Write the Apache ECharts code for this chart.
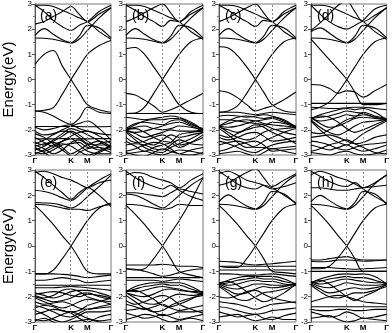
<!DOCTYPE html>
<html>
<head>
<meta charset="utf-8">
<script src="https://cdn.jsdelivr.net/npm/echarts@6/dist/echarts.min.js"></script>
<style>
  html, body { margin: 0; padding: 0; background: #fff; }
  #chart { width: 392px; height: 333px; }
</style>
</head>
<body>
<div id="chart"></div>
<script>
// k-path sample positions (fraction of path length) and high-symmetry labels
const kx = [0, 0.12, 0.24, 0.36, 0.474, 0.58, 0.69, 0.845, 1.0]
const kLabelPos = [0, 0.474, 0.69, 1]
const kLabels = ['Γ', 'K', 'M', 'Γ']
const panelLabels = ['(a)', '(b)', '(c)', '(d)', '(e)', '(f)', '(g)', '(h)']
const yTicks = [-3, 3, 1] // min, max, step (eV)

// band energies (eV) at each kx, per panel
const bandsA = [
  [1.65, 1.64, 1.6, 1.52, 1.45, 1.6, 1.95, 2.45, 2.85],
  [1.75, 2.02, 1.8, 1.58, 1.47, 1.72, 2.15, 2.05, 1.65],
  [2.95, 2.7, 2.35, 2.1, 1.95, 2.15, 2.3, 2.7, 2.95],
  [2.95, 2.95, 2.9, 2.75, 2.6, 2.45, 2.3, 1.9, 1.6],
  [2.2, 2.3, 2.5, 2.7, 2.9, 2.6, 2.3, 2.6, 2.85],
  [0.6, 1.0, 1.15, 0.53, 0, -0.5, -1.0, -1.2, -1.3],
  [-1.25, -1.22, -1.12, -0.58, 0, 0.5, 1.0, 1.35, 1.55],
  [-1.25, -1.3, -1.45, -1.65, -1.78, -1.55, -1.1, -1.3, -1.35],
  [-1.87, -1.87, -1.87, -1.87, -1.87, -1.87, -1.88, -1.88, -1.87],
  [-1.9, -2.0, -1.95, -1.85, -1.8, -1.95, -2.05, -2.15, -2.2],
  [-2.05, -2.2, -2.15, -2.0, -1.85, -1.75, -1.65, -1.95, -2.4],
  [-2.35, -2.36, -2.36, -2.35, -2.35, -2.36, -2.36, -2.35, -2.35],
  [-2.3, -2.5, -2.65, -2.45, -2.25, -2.1, -2.05, -2.25, -2.55],
  [-2.55, -2.4, -2.2, -2.05, -2.1, -2.3, -2.55, -2.6, -2.6],
  [-2.6, -2.75, -2.95, -2.8, -2.5, -2.4, -2.6, -2.8, -2.65],
  [-2.65, -2.55, -2.5, -2.7, -2.95, -2.8, -2.6, -2.45, -2.7],
  [-2.7, -2.9, -3.1, -3.1, -3.1, -2.9, -2.75, -2.7, -2.8],
  [-2.8, -2.65, -2.45, -2.25, -2.05, -2.2, -2.45, -2.7, -2.9],
  [-2.95, -2.8, -2.6, -2.45, -2.35, -2.6, -2.85, -2.95, -2.95],
  [-2.15, -2.3, -2.55, -2.8, -3.05, -3.1, -3.1, -2.9, -2.65],
  [-2.75, -2.85, -2.7, -2.55, -2.65, -2.85, -3.0, -2.85, -2.6],
  [-2.5, -2.6, -2.4, -2.15, -1.95, -2.05, -2.2, -2.45, -2.75],
  [-2.9, -2.95, -2.8, -2.6, -2.55, -2.5, -2.7, -2.55, -2.45]
]
const bandsB = [
  [1.65, 1.64, 1.6, 1.52, 1.45, 1.6, 1.95, 2.45, 2.85],
  [1.75, 2.02, 1.8, 1.58, 1.47, 1.72, 2.15, 2.05, 1.65],
  [2.95, 2.75, 2.5, 2.3, 2.1, 2.35, 2.3, 2.7, 2.95],
  [2.95, 2.95, 2.9, 2.75, 2.6, 2.45, 2.3, 1.9, 1.6],
  [2.3, 2.45, 2.65, 2.85, 3.0, 2.65, 2.3, 2.6, 2.85],
  [1.22, 1.27, 1.0, 0.5, 0, -0.5, -1.0, -1.3, -1.35],
  [-1.35, -1.33, -1.1, -0.55, 0, 0.5, 1.0, 1.5, 1.65],
  [-0.55, -0.62, -0.82, -1.05, -1.3, -1.2, -1.05, -0.8, -0.55],
  [-1.35, -1.35, -1.35, -1.35, -1.35, -1.35, -1.35, -1.35, -1.35],
  [-1.5, -1.55, -1.6, -1.55, -1.5, -1.45, -1.5, -1.7, -2.0],
  [-2.0, -1.8, -1.65, -1.6, -1.6, -1.55, -1.55, -1.75, -2.0],
  [-1.95, -1.75, -1.7, -1.75, -1.8, -1.65, -1.6, -1.8, -1.95],
  [-2.0, -1.9, -1.85, -1.95, -2.0, -1.95, -1.85, -1.9, -2.0],
  [-2.05, -2.1, -2.05, -1.95, -1.85, -1.75, -1.7, -1.85, -2.05],
  [-2.0, -2.15, -2.3, -2.2, -2.1, -2.0, -2.05, -2.05, -2.0],
  [-2.05, -2.3, -2.5, -2.6, -2.4, -2.2, -2.3, -2.2, -2.1],
  [-2.1, -2.4, -2.7, -2.85, -2.9, -2.7, -2.55, -2.35, -2.1],
  [-2.3, -2.5, -2.45, -2.3, -2.2, -2.35, -2.6, -2.5, -2.3],
  [-2.6, -2.55, -2.6, -2.75, -2.8, -2.6, -2.4, -2.55, -2.6],
  [-2.85, -2.75, -2.6, -2.5, -2.55, -2.75, -2.95, -2.8, -2.7],
  [-2.95, -2.9, -2.85, -2.95, -3.0, -2.9, -2.8, -2.85, -2.95],
  [-2.9, -3.0, -3.05, -2.9, -2.75, -2.85, -2.95, -3.0, -2.9],
  [-2.0, -1.95, -2.1, -2.3, -2.45, -2.5, -2.7, -2.5, -2.2],
  [-2.45, -2.65, -2.85, -2.7, -2.6, -2.5, -2.2, -2.1, -2.05]
]
const bandsC = [
  [1.65, 1.64, 1.6, 1.52, 1.45, 1.6, 1.95, 2.45, 2.85],
  [1.75, 2.02, 1.8, 1.58, 1.47, 1.72, 2.15, 2.05, 1.65],
  [2.95, 2.75, 2.5, 2.3, 2.1, 2.35, 2.3, 2.7, 2.95],
  [2.95, 2.95, 2.9, 2.75, 2.6, 2.45, 2.3, 1.9, 1.6],
  [2.3, 2.45, 2.65, 2.85, 3.0, 2.65, 2.3, 2.6, 2.85],
  [1.3, 1.25, 0.95, 0.5, 0, -0.5, -1.0, -1.25, -1.3],
  [-1.3, -1.25, -1.05, -0.55, 0, 0.5, 1.0, 1.5, 1.65],
  [-0.45, -0.52, -0.72, -1.0, -1.25, -1.15, -1.05, -0.8, -0.5],
  [-1.3, -1.3, -1.3, -1.35, -1.4, -1.35, -1.3, -1.35, -1.4],
  [-1.45, -1.42, -1.45, -1.5, -1.45, -1.4, -1.45, -1.6, -1.9],
  [-1.85, -1.65, -1.5, -1.45, -1.5, -1.55, -1.5, -1.65, -1.9],
  [-1.85, -1.75, -1.65, -1.6, -1.65, -1.6, -1.55, -1.7, -1.85],
  [-1.85, -1.9, -1.85, -1.75, -1.65, -1.75, -1.8, -1.85, -1.9],
  [-1.9, -2.0, -2.1, -2.0, -1.9, -1.85, -1.7, -1.75, -1.9],
  [-1.85, -2.1, -2.3, -2.4, -2.3, -2.1, -2.0, -1.95, -1.9],
  [-1.95, -2.2, -2.5, -2.7, -2.65, -2.45, -2.3, -2.1, -1.95],
  [-2.3, -2.4, -2.3, -2.15, -2.1, -2.25, -2.45, -2.4, -2.3],
  [-2.45, -2.55, -2.7, -2.85, -2.9, -2.75, -2.6, -2.5, -2.45],
  [-2.6, -2.5, -2.45, -2.55, -2.7, -2.7, -2.75, -2.7, -2.65],
  [-2.85, -2.75, -2.6, -2.5, -2.45, -2.6, -2.85, -2.8, -2.75],
  [-2.95, -2.9, -2.85, -2.95, -3.05, -2.9, -2.75, -2.85, -2.95],
  [-1.6, -1.6, -1.65, -1.7, -1.75, -1.8, -1.95, -2.1, -2.2],
  [-2.2, -2.3, -2.15, -1.95, -1.8, -1.9, -2.1, -2.3, -2.55]
]
const bandsD = [
  [1.65, 1.64, 1.6, 1.52, 1.45, 1.6, 1.95, 2.45, 2.85],
  [1.9, 2.05, 1.85, 1.6, 1.47, 1.72, 2.15, 2.05, 1.65],
  [1.95, 2.25, 2.6, 2.95, 3.1, 2.7, 2.3, 2.55, 2.85],
  [2.95, 2.95, 2.9, 2.75, 2.6, 2.45, 2.3, 1.9, 1.6],
  [2.95, 2.6, 2.3, 2.1, 2.0, 2.15, 2.35, 2.8, 2.95],
  [1.6, 1.2, 0.8, 0.4, 0, -0.5, -1.0, -1.0, -0.95],
  [-1.2, -1.1, -0.9, -0.5, 0, 0.5, 1.0, 1.5, 1.65],
  [-0.2, -0.22, -0.35, -0.55, -0.45, -0.5, -0.7, -0.45, -0.2],
  [-0.95, -0.95, -0.95, -0.95, -0.95, -0.95, -0.95, -0.95, -0.95],
  [-1.1, -1.12, -1.15, -1.15, -1.12, -1.1, -1.1, -1.15, -1.2],
  [-1.55, -1.4, -1.3, -1.2, -1.15, -1.2, -1.15, -1.3, -1.6],
  [-1.55, -1.5, -1.45, -1.35, -1.25, -1.3, -1.35, -1.5, -1.6],
  [-1.55, -1.65, -1.6, -1.5, -1.4, -1.45, -1.4, -1.5, -1.6],
  [-1.5, -1.75, -1.9, -1.85, -1.7, -1.55, -1.5, -1.55, -1.6],
  [-1.6, -1.9, -2.1, -2.2, -2.05, -1.85, -1.7, -1.65, -1.6],
  [-1.65, -2.0, -2.3, -2.5, -2.6, -2.4, -2.15, -1.9, -1.65],
  [-2.3, -2.25, -2.2, -2.3, -2.45, -2.55, -2.5, -2.3, -2.2],
  [-2.45, -2.5, -2.6, -2.75, -2.8, -2.7, -2.6, -2.55, -2.5],
  [-2.6, -2.7, -2.8, -2.7, -2.6, -2.75, -2.85, -2.75, -2.6],
  [-2.85, -2.75, -2.6, -2.5, -2.4, -2.55, -2.7, -2.9, -2.95],
  [-2.9, -2.95, -3.0, -2.9, -2.85, -2.95, -3.0, -2.95, -2.8],
  [-1.55, -1.45, -1.5, -1.7, -1.95, -2.1, -2.0, -1.8, -1.6],
  [-2.1, -2.15, -2.0, -1.8, -1.6, -1.5, -1.3, -1.45, -1.55]
]
const bandsE = [
  [1.65, 1.63, 1.58, 1.5, 1.45, 1.45, 1.4, 1.55, 1.65],
  [1.72, 1.7, 1.68, 1.6, 1.5, 1.65, 1.95, 2.35, 2.8],
  [2.2, 2.15, 2.05, 1.9, 1.8, 2.0, 2.3, 2.6, 2.85],
  [2.95, 2.7, 2.4, 2.1, 1.85, 2.1, 2.3, 2.0, 1.55],
  [2.9, 2.95, 2.85, 2.7, 2.6, 2.45, 2.3, 2.5, 2.6],
  [1.6, 1.25, 0.85, 0.4, 0, -0.5, -1.0, -1.1, -1.1],
  [-1.1, -1.1, -0.95, -0.5, 0, 0.5, 1.0, 1.5, 1.7],
  [-1.1, -1.1, -1.1, -1.12, -1.15, -1.2, -1.25, -1.2, -1.15],
  [-1.35, -1.35, -1.3, -1.25, -1.3, -1.35, -1.45, -1.4, -1.35],
  [-1.55, -1.55, -1.55, -1.55, -1.55, -1.55, -1.55, -1.55, -1.55],
  [-1.65, -1.65, -1.65, -1.62, -1.6, -1.62, -1.65, -1.7, -1.75],
  [-1.85, -1.95, -2.05, -1.95, -1.8, -1.75, -1.75, -1.85, -2.0],
  [-1.9, -1.85, -1.8, -1.85, -1.95, -2.0, -1.9, -1.95, -2.05],
  [-2.0, -2.1, -2.2, -2.15, -2.05, -1.9, -1.85, -2.0, -2.1],
  [-2.05, -2.2, -2.35, -2.45, -2.35, -2.2, -2.1, -2.15, -2.2],
  [-2.2, -2.3, -2.25, -2.2, -2.3, -2.45, -2.5, -2.4, -2.3],
  [-2.35, -2.45, -2.6, -2.75, -2.8, -2.65, -2.5, -2.45, -2.4],
  [-2.55, -2.7, -2.9, -3.0, -2.9, -2.75, -2.6, -2.6, -2.55],
  [-2.7, -2.6, -2.5, -2.55, -2.65, -2.85, -3.0, -2.8, -2.7],
  [-2.9, -2.95, -2.85, -2.7, -2.6, -2.7, -2.85, -2.95, -2.9],
  [-2.95, -2.85, -3.0, -3.1, -3.0, -2.95, -2.9, -3.0, -3.05],
  [-1.95, -2.05, -1.95, -1.75, -1.7, -1.8, -2.0, -2.15, -2.3],
  [-2.45, -2.35, -2.4, -2.55, -2.6, -2.55, -2.35, -2.2, -2.05]
]
const bandsF = [
  [1.65, 1.63, 1.58, 1.5, 1.45, 1.5, 1.65, 1.6, 1.6],
  [2.1, 2.1, 2.05, 2.0, 1.95, 2.1, 2.25, 2.15, 2.05],
  [2.05, 2.0, 1.85, 1.65, 1.5, 1.7, 2.0, 2.4, 2.7],
  [2.95, 2.7, 2.5, 2.35, 2.25, 2.4, 2.2, 1.95, 1.8],
  [2.8, 2.9, 2.85, 2.7, 2.6, 2.5, 2.3, 2.6, 2.85],
  [1.6, 1.25, 0.85, 0.4, 0, -0.5, -1.0, -1.15, -1.25],
  [-0.9, -0.95, -0.9, -0.5, 0, 0.5, 1.0, 1.8, 2.7],
  [-0.75, -0.75, -0.75, -0.75, -0.72, -0.75, -0.8, -0.8, -0.85],
  [-0.9, -0.92, -1.0, -1.1, -1.2, -1.15, -1.05, -0.95, -0.9],
  [-1.25, -1.25, -1.25, -1.25, -1.25, -1.25, -1.25, -1.25, -1.25],
  [-1.35, -1.35, -1.35, -1.35, -1.4, -1.35, -1.3, -1.35, -1.4],
  [-1.8, -1.6, -1.5, -1.45, -1.45, -1.45, -1.45, -1.6, -1.85],
  [-1.8, -1.7, -1.6, -1.55, -1.5, -1.55, -1.55, -1.7, -1.85],
  [-1.75, -1.8, -1.75, -1.65, -1.6, -1.65, -1.7, -1.8, -1.8],
  [-1.85, -1.95, -2.0, -1.9, -1.75, -1.7, -1.75, -1.8, -1.9],
  [-1.85, -2.05, -2.25, -2.3, -2.2, -2.0, -1.9, -1.95, -1.9],
  [-1.95, -2.2, -2.45, -2.6, -2.55, -2.35, -2.2, -2.05, -1.95],
  [-2.3, -2.4, -2.5, -2.4, -2.3, -2.45, -2.55, -2.45, -2.35],
  [-2.55, -2.5, -2.45, -2.6, -2.75, -2.7, -2.6, -2.6, -2.55],
  [-2.65, -2.75, -2.85, -2.8, -2.7, -2.8, -2.9, -2.8, -2.7],
  [-2.9, -2.8, -2.7, -2.75, -2.9, -3.0, -2.95, -2.85, -2.95],
  [-1.8, -1.75, -1.9, -2.1, -2.35, -2.4, -2.3, -2.1, -1.85],
  [-2.15, -2.3, -2.2, -2.05, -1.95, -2.05, -2.3, -2.5, -2.65]
]
const bandsG = [
  [1.65, 1.63, 1.58, 1.5, 1.45, 1.6, 1.95, 2.45, 2.8],
  [1.75, 2.02, 1.8, 1.58, 1.47, 1.72, 2.15, 2.05, 1.65],
  [2.95, 2.7, 2.45, 2.3, 2.25, 2.4, 2.3, 2.0, 1.7],
  [2.85, 2.95, 2.8, 2.6, 2.5, 2.4, 2.25, 2.35, 2.5],
  [2.4, 2.5, 2.7, 2.9, 3.05, 2.7, 2.35, 2.6, 2.85],
  [1.6, 1.25, 0.85, 0.4, 0, -0.5, -1.0, -1.05, -1.1],
  [-0.8, -0.85, -0.85, -0.5, 0, 0.5, 1.0, 1.5, 1.65],
  [-0.6, -0.62, -0.65, -0.72, -0.75, -0.72, -0.7, -0.65, -0.6],
  [-0.8, -0.8, -0.8, -0.8, -0.8, -0.8, -0.8, -0.8, -0.8],
  [-0.95, -0.95, -0.95, -0.95, -0.95, -0.95, -0.95, -0.95, -0.95],
  [-1.1, -1.1, -1.12, -1.15, -1.15, -1.12, -1.1, -1.15, -1.2],
  [-1.5, -1.35, -1.25, -1.2, -1.2, -1.2, -1.2, -1.3, -1.5],
  [-1.5, -1.45, -1.35, -1.3, -1.25, -1.3, -1.3, -1.4, -1.5],
  [-1.45, -1.55, -1.5, -1.4, -1.35, -1.4, -1.4, -1.5, -1.55],
  [-1.5, -1.65, -1.7, -1.6, -1.5, -1.5, -1.55, -1.55, -1.5],
  [-1.55, -1.75, -1.9, -1.85, -1.7, -1.6, -1.65, -1.6, -1.5],
  [-1.6, -1.85, -2.1, -2.15, -2.0, -1.85, -1.8, -1.7, -1.55],
  [-2.2, -2.25, -2.3, -2.4, -2.5, -2.4, -2.3, -2.25, -2.2],
  [-2.4, -2.45, -2.55, -2.65, -2.7, -2.65, -2.55, -2.5, -2.45],
  [-2.6, -2.7, -2.8, -2.75, -2.7, -2.85, -2.9, -2.75, -2.65],
  [-2.8, -2.75, -2.7, -2.85, -2.95, -2.9, -2.8, -2.9, -2.9],
  [-1.45, -1.4, -1.55, -1.8, -2.05, -2.2, -2.1, -1.85, -1.5],
  [-2.0, -2.05, -1.95, -1.8, -1.75, -1.9, -2.05, -2.15, -2.25]
]
const bandsH = [
  [1.65, 1.63, 1.58, 1.5, 1.45, 1.6, 1.95, 2.45, 2.8],
  [1.75, 2.0, 1.8, 1.58, 1.47, 1.72, 2.15, 2.05, 1.65],
  [2.3, 2.3, 2.25, 2.2, 2.2, 2.25, 2.3, 2.35, 2.4],
  [2.95, 2.75, 2.55, 2.4, 2.35, 2.5, 2.25, 1.95, 1.7],
  [2.8, 2.95, 2.85, 2.7, 2.6, 2.45, 2.3, 2.5, 2.8],
  [1.6, 1.25, 0.85, 0.4, 0, -0.5, -1.0, -1.0, -1.0],
  [-0.9, -0.9, -0.8, -0.45, 0, 0.5, 1.0, 1.5, 1.65],
  [-0.55, -0.55, -0.5, -0.45, -0.42, -0.5, -0.55, -0.55, -0.55],
  [-0.6, -0.62, -0.6, -0.55, -0.55, -0.57, -0.6, -0.58, -0.55],
  [-0.85, -0.85, -0.85, -0.88, -0.9, -0.92, -0.9, -0.88, -0.85],
  [-1.0, -1.0, -1.0, -1.0, -1.0, -1.0, -1.0, -1.0, -1.0],
  [-1.45, -1.3, -1.2, -1.12, -1.1, -1.12, -1.1, -1.2, -1.5],
  [-1.45, -1.4, -1.3, -1.25, -1.2, -1.25, -1.25, -1.35, -1.5],
  [-1.4, -1.5, -1.45, -1.35, -1.3, -1.35, -1.4, -1.45, -1.45],
  [-1.45, -1.6, -1.65, -1.55, -1.45, -1.5, -1.55, -1.55, -1.5],
  [-1.5, -1.7, -1.85, -1.8, -1.7, -1.65, -1.7, -1.65, -1.55],
  [-1.55, -1.8, -2.0, -2.05, -1.95, -1.85, -1.85, -1.75, -1.6],
  [-2.2, -2.1, -2.0, -1.95, -2.0, -2.1, -2.2, -2.25, -2.3],
  [-2.4, -2.4, -2.4, -2.4, -2.4, -2.4, -2.4, -2.4, -2.4],
  [-2.5, -2.55, -2.55, -2.5, -2.5, -2.55, -2.55, -2.5, -2.5],
  [-2.6, -2.7, -2.8, -2.75, -2.6, -2.7, -2.85, -2.8, -2.7],
  [-2.85, -2.8, -2.75, -2.9, -3.0, -2.95, -2.85, -2.9, -2.95],
  [-1.45, -1.35, -1.5, -1.75, -2.0, -2.15, -2.0, -1.8, -1.5]
]
const panels = [bandsA, bandsB, bandsC, bandsD, bandsE, bandsF, bandsG, bandsH]

const lefts = [34, 126, 219, 311]
const tops = [3, 170]
const gw = 77
const gh = 152
const font = 'Liberation Sans'

const chart = echarts.init(document.getElementById('chart'))

const grid = [], xAxis = [], yAxis = [], series = [], graphic = []

panels.forEach((bands, p) => {
  const left = lefts[p % 4]
  const top = tops[Math.floor(p / 4)]
  grid.push({
    left: left, top: top, width: gw, height: gh,
    show: true, borderColor: '#777', borderWidth: 1, backgroundColor: '#fff'
  })
  xAxis.push({
    type: 'value', gridIndex: p, min: 0, max: 1,
    axisLine: { show: false },
    axisTick: { show: false },
    splitLine: { show: false },
    axisLabel: {
      customValues: kLabelPos,
      margin: 2,
      fontSize: 8,
      fontWeight: 'bold',
      fontFamily: font,
      color: '#000',
      formatter: v => kLabels[kLabelPos.indexOf(v)]
    }
  })
  yAxis.push({
    type: 'value', gridIndex: p, min: yTicks[0], max: yTicks[1], interval: yTicks[2],
    axisLine: { show: true, lineStyle: { color: '#555' } },
    axisTick: { show: true, length: 3, lineStyle: { color: '#555' } },
    minorTick: { show: true, splitNumber: 2, length: 2, lineStyle: { color: '#777' } },
    splitLine: { show: false },
    axisLabel: { fontSize: 8, margin: 3, color: '#000', fontFamily: font },
    name: p % 4 === 0 ? 'Energy(eV)' : '',
    nameLocation: 'middle',
    nameGap: 19,
    nameRotate: 90,
    nameTextStyle: { fontSize: 15, fontFamily: font, color: '#000' }
  })
  // dotted guides at K and M
  series.push({
    type: 'line', xAxisIndex: p, yAxisIndex: p, data: [],
    markLine: {
      silent: true, symbol: ['none', 'none'], label: { show: false },
      lineStyle: { type: [2, 2], color: '#888', width: 1 },
      data: [{ xAxis: kLabelPos[1] }, { xAxis: kLabelPos[2] }]
    }
  })
  bands.forEach(b => {
    series.push({
      type: 'line', xAxisIndex: p, yAxisIndex: p,
      data: kx.map((x, i) => [x, b[i]]),
      smooth: 0.35,
      showSymbol: false,
      clip: true,
      silent: true,
      lineStyle: { color: '#000', width: 1.1 }
    })
  })
  graphic.push({
    type: 'text', left: left + 6, top: top + 6, z: 100,
    style: { text: panelLabels[p], font: '14px ' + font, fill: '#000' }
  })
})

chart.setOption({
  animation: false,
  backgroundColor: '#fff',
  grid, xAxis, yAxis, series, graphic
})
</script>
</body>
</html>
